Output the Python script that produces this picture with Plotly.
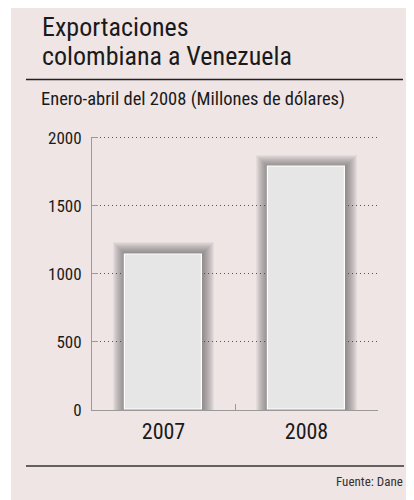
import plotly.graph_objects as go

# ---- data ----
categories = ["2007", "2008"]
values = [1146, 1786]
y_ticks = [0, 500, 1000, 1500, 2000]
title_lines = ["Exportaciones", "colombiana a Venezuela"]
subtitle = "Enero-abril del 2008 (Millones de dólares)"
source = "Fuente: Dane"

# page offset of the plot div (body margin) -> figure sized to fit the window
OX, OY = 8, 8
W, H = 414 - OX, 500 - OY
FONT = "Liberation Sans Narrow, Arial Narrow, Roboto Condensed, Liberation Sans, sans-serif"
PINK = "#efe5e5"
INK = "#1a1a1a"

def px(x):
    return (x - OX) / W

def py(y):
    return 1 - (y - OY) / H

def fmt(v):
    return f"{v:,}".replace(",", ".")

fig = go.Figure()

# soft shadow layers behind each bar
N_SHADOW = 12
for k in range(1, N_SHADOW + 1):
    fig.add_trace(go.Bar(
        x=categories, y=[v + 7.5 * k for v in values], width=0.545 + 0.014 * k,
        marker=dict(color="rgba(70,60,60,0.06)", line=dict(width=0)),
        hoverinfo="skip", showlegend=False,
    ))

fig.add_trace(go.Bar(
    x=categories, y=values, width=0.545,
    marker=dict(color="#e6e6e6", line=dict(color="#ffffff", width=1.2)),
    showlegend=False,
))

for c, v in zip(categories, values):
    fig.add_annotation(x=c, y=v, xref="x", yref="y", text=fmt(v), showarrow=False,
                       yanchor="bottom", yshift=14,
                       font=dict(family=FONT, size=21, color=INK))

# titles
fig.add_annotation(x=px(40), y=py(26.5), xref="paper", yref="paper", text=title_lines[0],
                   showarrow=False, xanchor="left", yanchor="middle",
                   font=dict(family=FONT, size=26, color=INK))
fig.add_annotation(x=px(40), y=py(56), xref="paper", yref="paper", text=title_lines[1],
                   showarrow=False, xanchor="left", yanchor="middle",
                   font=dict(family=FONT, size=26, color=INK))
fig.add_annotation(x=px(38.5), y=py(99), xref="paper", yref="paper", text=subtitle,
                   showarrow=False, xanchor="left", yanchor="middle",
                   font=dict(family=FONT, size=18.5, color=INK))
fig.add_annotation(x=px(405), y=py(481), xref="paper", yref="paper", text=source,
                   showarrow=False, xanchor="right", yanchor="middle",
                   font=dict(family=FONT, size=13, color="#333333"))

fig.update_layout(
    width=W, height=H,
    margin=dict(l=0, r=0, t=0, b=0),
    paper_bgcolor=PINK,
    plot_bgcolor="rgba(0,0,0,0)",
    barmode="overlay",
    bargap=0,
    shapes=[
        dict(type="rect", xref="paper", yref="paper", x0=0, x1=px(11), y0=0, y1=1,
             fillcolor="#ffffff", line=dict(width=0), layer="above"),
        dict(type="line", xref="paper", yref="paper", x0=px(26), x1=px(403), y0=py(79.5), y1=py(79.5),
             line=dict(color="#222222", width=1.5)),
        dict(type="line", xref="paper", yref="paper", x0=px(26), x1=px(404), y0=py(466), y1=py(466),
             line=dict(color="#333333", width=1.5)),
    ],
    xaxis=dict(
        domain=[px(92), px(378)], range=[-0.5, 1.5], type="category",
        showline=True, linecolor="#9a9a9a", linewidth=1,
        ticks="inside", ticklen=6, tickcolor="#9a9a9a", tickson="boundaries",
        showgrid=False, automargin=False, ticklabelstandoff=2,
        tickfont=dict(family=FONT, size=22, color=INK),
    ),
    yaxis=dict(
        domain=[py(410), py(136.6)], range=[0, 2010],
        tickvals=y_ticks, ticktext=[str(t) for t in y_ticks],
        showline=True, linecolor="#9a9a9a", linewidth=1,
        ticks="inside", ticklen=6, tickcolor="#9a9a9a",
        showgrid=True, gridcolor="#555555", gridwidth=1, griddash="1px,3px",
        zeroline=False, automargin=False, ticklabelstandoff=6,
        tickfont=dict(family=FONT, size=17, color=INK),
    ),
)

fig.write_html("out.html")
